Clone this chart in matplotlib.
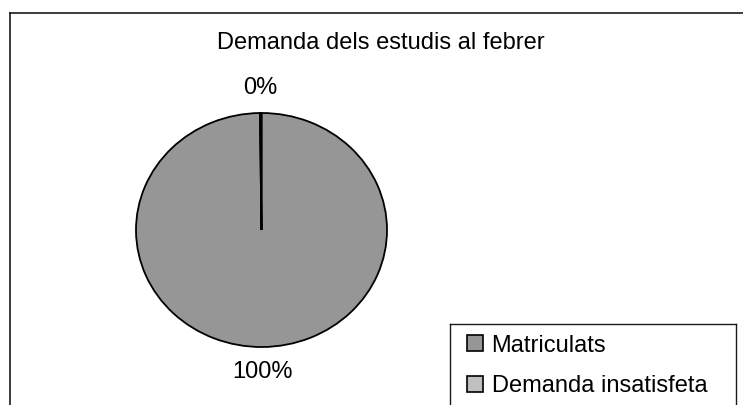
import matplotlib
matplotlib.use('Agg')
import matplotlib.pyplot as plt
from matplotlib.lines import Line2D
from matplotlib.patches import Patch

plt.rcParams['font.family'] = ['Liberation Sans', 'DejaVu Sans']

categories = ['Matriculats', 'Demanda insatisfeta']
values = [99.8, 0.2]
colors = ['#969696', '#c0c0c0']
title = 'Demanda dels estudis al febrer'

W, H = 743, 405
fs = 17
fig = plt.figure(figsize=(W / 100, H / 100), dpi=100)

# pie axes placed on the pixel box of the (slightly oval) pie
left, right, top, bottom = 136, 387, 113, 347
ax = fig.add_axes([left / W, 1 - bottom / H, (right - left) / W, (bottom - top) / H])
wedges, texts, autotexts = ax.pie(values, colors=colors, startangle=90, counterclock=False,
                                  autopct='%1.0f%%', pctdistance=1.21,
                                  wedgeprops=dict(edgecolor='black', linewidth=1.3),
                                  textprops=dict(fontsize=fs, color='black'))
ax.set_aspect('auto')
ax.set_xlim(-1, 1)
ax.set_ylim(-1, 1)

fig.text(381 / W, 1 - 43 / H, title, ha='center', va='center', fontsize=fs)

# outer chart frame (cut off at right and bottom)
def fline(xs, ys, lw=1.2):
    fig.add_artist(Line2D([x / W for x in xs], [1 - y / H for y in ys],
                          color='#1a1a1a', lw=lw, transform=fig.transFigure))

fline([9.5, 9.5], [405, 12.5])
fline([9.5, 743], [12.5, 12.5])

# legend box
fline([449.5, 449.5], [405, 323.5], lw=1.0)
fline([449.5, 735.5], [323.5, 323.5], lw=1.0)
fline([735.5, 735.5], [323.5, 405], lw=1.0)

handles = [Patch(facecolor=c, edgecolor='black', linewidth=1.2) for c in colors]
fig.legend(handles, categories, loc='upper left', bbox_to_anchor=(450 / W, 1 - 318 / H),
           frameon=False, fontsize=fs, handlelength=0.7, handleheight=0.65,
           handletextpad=0.36, labelspacing=0.78, borderpad=0.2)

fig.savefig('out.png', dpi=100)
